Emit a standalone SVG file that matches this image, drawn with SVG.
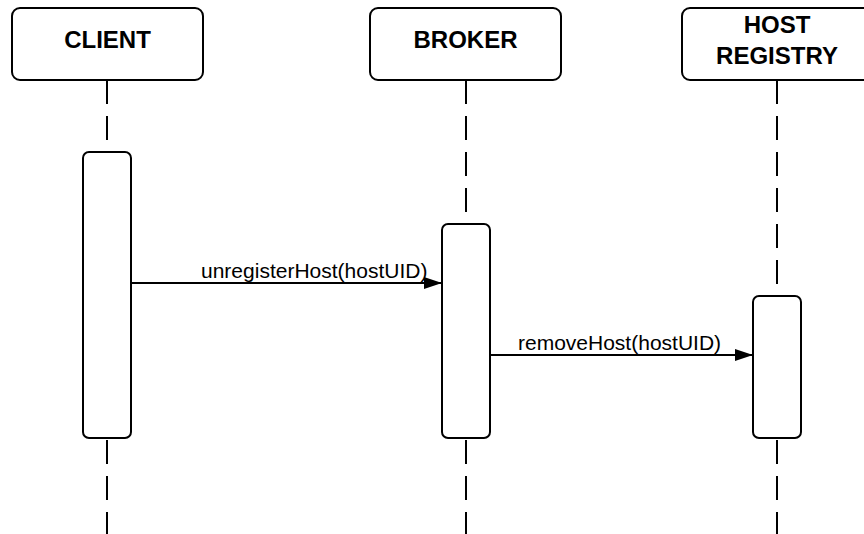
<svg xmlns="http://www.w3.org/2000/svg" width="864" height="534" viewBox="0 0 864 534">
  <style>
    .head { fill: #ffffff; stroke: #000000; stroke-width: 2; }
    .act { fill: #ffffff; stroke: #000000; stroke-width: 2; }
    .life { stroke: #000000; stroke-width: 2; stroke-dasharray: 24 12; fill: none; }
    .msg { stroke: #000000; stroke-width: 2; fill: none; }
    .title { font-family: "Liberation Sans", Arial, sans-serif; font-weight: bold; font-size: 24px; fill: #000000; text-anchor: middle; }
    .label { font-family: "Liberation Sans", Arial, sans-serif; font-size: 21px; fill: #000000; }
  </style>
  <defs>
    <marker id="arrow" markerWidth="18" markerHeight="12" refX="18" refY="6" orient="auto" markerUnits="userSpaceOnUse">
      <path d="M0,0 L18,6 L0,12 Z" fill="#000000"/>
    </marker>
  </defs>
  <rect width="864" height="534" fill="#ffffff"/>

  <!-- lifelines -->
  <g id="lifelines">
    <line class="life" x1="107" y1="80" x2="107" y2="534"/>
    <line class="life" x1="466" y1="80" x2="466" y2="534"/>
    <line class="life" x1="777" y1="80" x2="777" y2="534"/>
  </g>

  <!-- participants -->
  <g id="client">
    <rect class="head" x="12" y="8" width="191" height="72" rx="8"/>
    <text class="title" x="107.5" y="48">CLIENT</text>
    <rect class="act" x="83" y="152" width="48" height="286" rx="6"/>
  </g>
  <g id="broker">
    <rect class="head" x="370" y="8" width="191" height="72" rx="8"/>
    <text class="title" x="465.5" y="48">BROKER</text>
    <rect class="act" x="442" y="224" width="48" height="214" rx="6"/>
  </g>
  <g id="host-registry">
    <rect class="head" x="682" y="8" width="191" height="72" rx="8"/>
    <text class="title" x="777" y="33">HOST</text>
    <text class="title" x="777" y="64">REGISTRY</text>
    <rect class="act" x="753" y="296" width="48" height="142" rx="6"/>
  </g>

  <!-- messages -->
  <g id="connectors">
    <line class="msg" x1="131" y1="283" x2="442" y2="283" marker-end="url(#arrow)"/>
    <text class="label" x="201" y="278">unregisterHost(hostUID)</text>
    <line class="msg" x1="490" y1="355" x2="753" y2="355" marker-end="url(#arrow)"/>
    <text class="label" x="518" y="350">removeHost(hostUID)</text>
  </g>
</svg>
